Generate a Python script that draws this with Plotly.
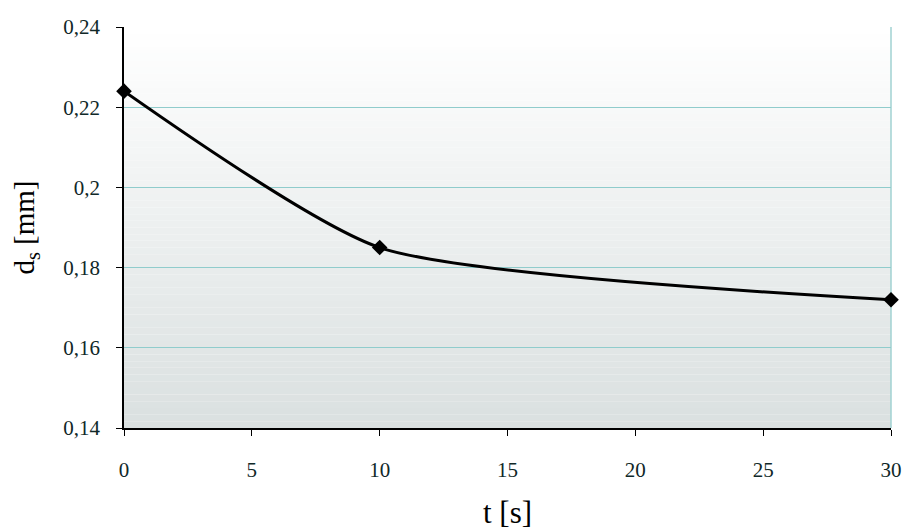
import plotly.graph_objects as go

t_values = [0, 10, 30]
ds_values = [0.224, 0.185, 0.172]
x_ticks = [0, 5, 10, 15, 20, 25, 30]
y_ticks = [0.14, 0.16, 0.18, 0.20, 0.22, 0.24]
y_tick_labels = ["0,14", "0,16", "0,18", "0,2", "0,22", "0,24"]

SERIF = "Liberation Serif"

fig = go.Figure()
fig.add_trace(go.Scatter(
    x=t_values, y=ds_values, mode="lines+markers",
    line=dict(color="black", width=3, shape="spline", smoothing=0.6),
    marker=dict(symbol="diamond", size=12, color="black"),
    showlegend=False, cliponaxis=False,
))

# gradient background bands
n = 60
top = (255, 255, 255)
bot = (218, 224, 224)
shapes = []
for i in range(n):
    f = i / (n - 1)
    c = tuple(int(round(top[k] + (bot[k] - top[k]) * f)) for k in range(3))
    y1 = 1 - i / n
    y0 = 1 - (i + 1) / n
    shapes.append(dict(type="rect", xref="x domain", yref="y domain",
                       x0=0, x1=1, y0=y0, y1=y1, layer="below",
                       line=dict(width=0), fillcolor="rgb(%d,%d,%d)" % c))
shapes.append(dict(type="line", xref="x domain", yref="y domain", x0=1, x1=1, y0=0, y1=1,
                   line=dict(color="#a0d2d2", width=1.5), layer="below"))

fig.update_layout(
    width=903, height=531,
    margin=dict(l=124, r=12, t=27, b=103),
    paper_bgcolor="white", plot_bgcolor="white",
    font=dict(family=SERIF, color="black", size=20),
    shapes=shapes,
)
fig.update_xaxes(
    range=[0, 30], tickvals=x_ticks, showgrid=False, zeroline=False,
    showline=True, linecolor="black", linewidth=1.5, automargin=False,
    ticks="outside", ticklen=6, tickcolor="black",
    ticklabelstandoff=16,
    tickfont=dict(family=SERIF, size=21, color="#102828"),
    title=dict(text="t [s]", font=dict(family=SERIF, size=31), standoff=20),
)
fig.update_yaxes(
    range=[0.14, 0.24], tickvals=y_ticks, ticktext=y_tick_labels,
    showgrid=True, gridcolor="#90cccc", gridwidth=1.2, zeroline=False,
    showline=True, linecolor="black", linewidth=1.5, automargin=False,
    ticks="outside", ticklen=6, tickcolor="black",
    ticklabelstandoff=12,
    tickfont=dict(family=SERIF, size=21, color="#102828"),
    title=dict(text="d<sub>s</sub> [mm]", font=dict(family=SERIF, size=29), standoff=20),
)

fig.write_html("out.html")
